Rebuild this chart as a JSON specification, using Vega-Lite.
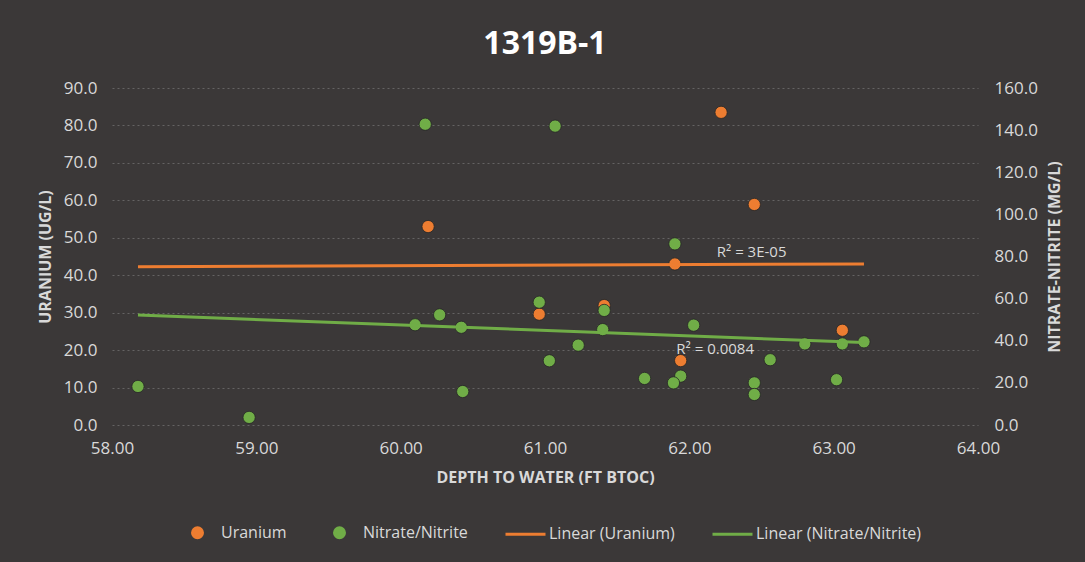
{
  "$schema": "https://vega.github.io/schema/vega-lite/v6.json",
  "width": 866,
  "height": 337,
  "autosize": {"type": "none"},
  "padding": {"left": 112, "right": 107, "top": 88, "bottom": 137},
  "background": "#3b3838",
  "title": {
    "text": "1319B-1",
    "font": "Open Sans",
    "fontSize": 32,
    "fontWeight": "bold",
    "color": "#ffffff",
    "anchor": "middle",
    "offset": 18
  },
  "config": {
    "view": {"stroke": null},
    "font": "Open Sans",
    "axis": {
      "labelColor": "#d9d9d9",
      "labelFontSize": 17,
      "labelFont": "Open Sans",
      "titleColor": "#d9d9d9",
      "titleFont": "Open Sans",
      "titleFontSize": 16,
      "titleFontWeight": "bold",
      "domain": false,
      "ticks": false,
      "tickSize": 0,
      "labelFlush": false,
      "gridColor": "#9a9a9a",
      "gridDash": [2, 3],
      "gridOpacity": 0.45,
      "gridWidth": 1
    }
  },
  "datasets": {
    "uranium": [
      {"depth": 60.19, "uranium": 53.0},
      {"depth": 62.22, "uranium": 83.5},
      {"depth": 62.45, "uranium": 58.9},
      {"depth": 61.90, "uranium": 43.0},
      {"depth": 60.96, "uranium": 29.6},
      {"depth": 61.41, "uranium": 31.9},
      {"depth": 61.94, "uranium": 17.2},
      {"depth": 63.06, "uranium": 25.3}
    ],
    "nitrate": [
      {"depth": 58.18, "nitrate": 18.3},
      {"depth": 58.95, "nitrate": 3.6},
      {"depth": 60.17, "nitrate": 142.8},
      {"depth": 61.07, "nitrate": 141.9},
      {"depth": 61.90, "nitrate": 86.0},
      {"depth": 60.10, "nitrate": 47.6},
      {"depth": 60.27, "nitrate": 52.3},
      {"depth": 60.42, "nitrate": 46.4},
      {"depth": 60.43, "nitrate": 15.9},
      {"depth": 60.96, "nitrate": 58.3},
      {"depth": 61.03, "nitrate": 30.5},
      {"depth": 61.23, "nitrate": 37.9},
      {"depth": 61.41, "nitrate": 54.4},
      {"depth": 61.40, "nitrate": 45.3},
      {"depth": 62.03, "nitrate": 47.4},
      {"depth": 61.69, "nitrate": 22.1},
      {"depth": 61.94, "nitrate": 23.2},
      {"depth": 61.89, "nitrate": 20.0},
      {"depth": 62.45, "nitrate": 20.0},
      {"depth": 62.45, "nitrate": 14.5},
      {"depth": 62.56, "nitrate": 31.0},
      {"depth": 62.80, "nitrate": 38.5},
      {"depth": 63.02, "nitrate": 21.5},
      {"depth": 63.06, "nitrate": 38.5},
      {"depth": 63.21, "nitrate": 39.5}
    ]
  },
  "layer": [
    {
      "data": {"name": "uranium"},
      "mark": {"type": "point", "filled": true, "size": 150, "opacity": 1, "stroke": "#262626", "strokeWidth": 0.8},
      "encoding": {
        "x": {
          "field": "depth", "type": "quantitative", "title": "DEPTH TO WATER (FT BTOC)",
          "scale": {"domain": [58, 64], "nice": false, "zero": false},
          "axis": {"values": [58, 59, 60, 61, 62, 63, 64], "format": ".2f", "grid": false, "labelPadding": 15, "titlePadding": 13}
        },
        "y": {
          "field": "uranium", "type": "quantitative", "title": "URANIUM (UG/L)",
          "scale": {"domain": [0, 90], "nice": false, "zero": true},
          "axis": {"orient": "left", "values": [0, 10, 20, 30, 40, 50, 60, 70, 80, 90], "format": ".1f", "grid": true, "labelPadding": 15, "titlePadding": 10}
        },
        "color": {
          "datum": "Uranium", "type": "nominal",
          "scale": {
            "domain": ["Uranium", "Nitrate/Nitrite", "Linear (Uranium)", "Linear (Nitrate/Nitrite)"],
            "range": ["#ed7d31", "#70ad47", "#ed7d31", "#70ad47"]
          },
          "legend": {
            "title": null,
            "orient": "none",
            "legendX": 64,
            "legendY": 423,
            "direction": "horizontal",
            "symbolSize": 1600,
            "symbolStrokeWidth": 3,
            "labelOffset": 2,
            "columnPadding": 31,
            "labelFont": "Open Sans",
            "labelFontSize": 16,
            "labelColor": "#d9d9d9",
            "labelLimit": 300,
            "encoding": {
              "symbols": {
                "shape": {"value": {"expr": "datum.value == 'Uranium' || datum.value == 'Nitrate/Nitrite' ? 'M0.25,0A0.25,0.25,0,1,1,-0.25,0A0.25,0.25,0,1,1,0.25,0Z' : 'stroke'"}},
                "fill": {"value": {"expr": "datum.value == 'Uranium' || datum.value == 'Nitrate/Nitrite' ? scale('color', datum.value) : 'transparent'"}},
                "stroke": {"value": {"expr": "scale('color', datum.value)"}},
                "opacity": {"value": 1}
              }
            }
          }
        }
      }
    },
    {
      "data": {"name": "nitrate"},
      "mark": {"type": "point", "filled": true, "size": 150, "opacity": 1, "stroke": "#262626", "strokeWidth": 0.8},
      "encoding": {
        "x": {"field": "depth", "type": "quantitative", "title": "DEPTH TO WATER (FT BTOC)"},
        "y": {
          "field": "nitrate", "type": "quantitative", "title": "NITRATE-NITRITE (MG/L)",
          "scale": {"domain": [0, 160], "nice": false, "zero": true},
          "axis": {"orient": "right", "values": [0, 20, 40, 60, 80, 100, 120, 140, 160], "format": ".1f", "grid": false, "labelPadding": 16, "titlePadding": 9, "titleAngle": 270, "titleBaseline": "top"}
        },
        "color": {"datum": "Nitrate/Nitrite", "type": "nominal"}
      }
    },
    {
      "data": {"name": "uranium"},
      "transform": [{"regression": "uranium", "on": "depth", "extent": [58.18, 63.21]}],
      "mark": {"type": "line", "strokeWidth": 3},
      "encoding": {
        "x": {"field": "depth", "type": "quantitative", "title": "DEPTH TO WATER (FT BTOC)"},
        "y": {"field": "uranium", "type": "quantitative", "scale": {"domain": [0, 90], "nice": false}, "axis": null},
        "color": {"datum": "Linear (Uranium)", "type": "nominal"}
      }
    },
    {
      "data": {"name": "nitrate"},
      "transform": [{"regression": "nitrate", "on": "depth", "extent": [58.18, 63.21]}],
      "mark": {"type": "line", "strokeWidth": 3},
      "encoding": {
        "x": {"field": "depth", "type": "quantitative", "title": "DEPTH TO WATER (FT BTOC)"},
        "y": {"field": "nitrate", "type": "quantitative", "scale": {"domain": [0, 160], "nice": false}, "axis": null},
        "color": {"datum": "Linear (Nitrate/Nitrite)", "type": "nominal"}
      }
    },
    {
      "data": {"values": [{}]},
      "mark": {"type": "text", "text": "R² = 3E-05", "align": "left", "baseline": "middle", "font": "Open Sans", "fontSize": 15, "color": "#d9d9d9"},
      "encoding": {
        "x": {"datum": 62.19, "type": "quantitative", "title": "DEPTH TO WATER (FT BTOC)"},
        "y": {"datum": 46.1, "type": "quantitative", "scale": {"domain": [0, 90], "nice": false}, "axis": null}
      }
    },
    {
      "data": {"values": [{}]},
      "mark": {"type": "text", "text": "R² = 0.0084", "align": "left", "baseline": "middle", "font": "Open Sans", "fontSize": 15, "color": "#d9d9d9"},
      "encoding": {
        "x": {"datum": 61.91, "type": "quantitative", "title": "DEPTH TO WATER (FT BTOC)"},
        "y": {"datum": 36.3, "type": "quantitative", "scale": {"domain": [0, 160], "nice": false}, "axis": null}
      }
    }
  ],
  "resolve": {"scale": {"y": "independent"}}
}
